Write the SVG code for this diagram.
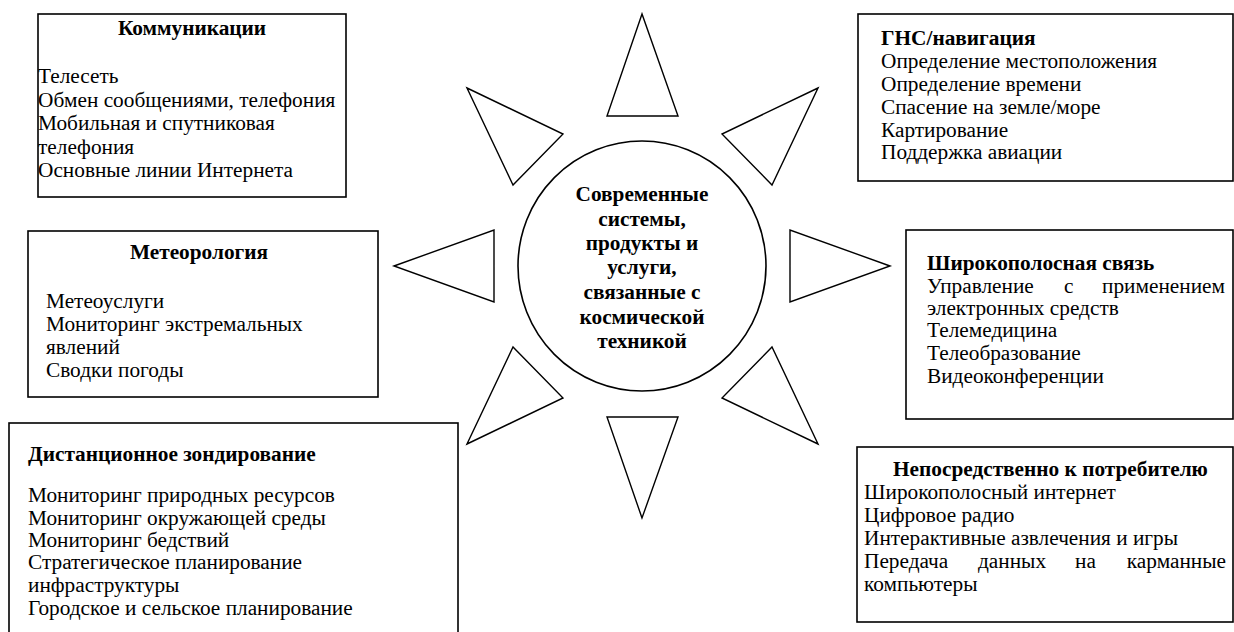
<svg xmlns="http://www.w3.org/2000/svg" width="1234" height="632" viewBox="0 0 1234 632">
<style>
.box{fill:#fff;stroke:#000;stroke-width:1.6}
.tri{fill:#fff;stroke:#000;stroke-width:1.4;stroke-linejoin:miter}
text{font-family:"Liberation Serif","Times New Roman",serif;font-size:21.3px;fill:#000}
.b{font-weight:bold}
.c{font-size:21.3px;font-weight:bold;text-anchor:middle}
.m{text-anchor:middle}
.e{text-anchor:end}
</style>
<rect width="1234" height="632" fill="#fff"/>
<g id="rays">
<polygon class="tri" points="642,14 607,116 678,116"/>
<polygon class="tri" points="467,88 563,134 513,185"/>
<polygon class="tri" points="818,88 722,134 772,185"/>
<polygon class="tri" points="394,266 494,230 494,302"/>
<polygon class="tri" points="890,266 790,230 790,302"/>
<polygon class="tri" points="467,444 563,398 513,347"/>
<polygon class="tri" points="818,444 722,398 772,347"/>
<polygon class="tri" points="642,518 607,417 678,417"/>
</g>
<g id="center">
<ellipse class="box" cx="642" cy="266" rx="124" ry="125"/>
<text class="c" x="642" y="201">Современные</text>
<text class="c" x="642" y="225.5">системы,</text>
<text class="c" x="642" y="250">продукты и</text>
<text class="c" x="642" y="274">услуги,</text>
<text class="c" x="642" y="299">связанные с</text>
<text class="c" x="642" y="323.5">космической</text>
<text class="c" x="642" y="348">техникой</text>
</g>
<g id="communications">
<rect class="box" x="38" y="14" width="308" height="183"/>
<text class="b m" x="192" y="35">Коммуникации</text>
<text x="38" y="83">Телесеть</text>
<text x="38" y="107">Обмен сообщениями, телефония</text>
<text x="38" y="130">Мобильная и спутниковая</text>
<text x="38" y="154">телефония</text>
<text x="38" y="177">Основные линии Интернета</text>
</g>
<g id="gnss">
<rect class="box" x="858" y="14" width="375" height="167"/>
<text class="b" x="881" y="45">ГНС/навигация</text>
<text x="881" y="68">Определение местоположения</text>
<text x="881" y="91">Определение времени</text>
<text x="881" y="114">Спасение на земле/море</text>
<text x="881" y="137">Картирование</text>
<text x="881" y="159">Поддержка авиации</text>
</g>
<g id="meteorology">
<rect class="box" x="28" y="231" width="350" height="166"/>
<text class="b m" x="199" y="259">Метеорология</text>
<text x="46" y="308">Метеоуслуги</text>
<text x="46" y="331">Мониторинг экстремальных</text>
<text x="46" y="354">явлений</text>
<text x="46" y="377">Сводки погоды</text>
</g>
<g id="broadband">
<rect class="box" x="906" y="230" width="327" height="189"/>
<text class="b" x="927" y="270">Широкополосная связь</text>
<text x="927" y="293">Управление</text>
<text x="1064" y="293">с</text>
<text class="e" x="1225" y="293">применением</text>
<text x="927" y="315">электронных средств</text>
<text x="927" y="337">Телемедицина</text>
<text x="927" y="360">Телеобразование</text>
<text x="927" y="383">Видеоконференции</text>
</g>
<g id="remote-sensing">
<rect class="box" x="9" y="423" width="449" height="230"/>
<text class="b" x="28" y="461">Дистанционное зондирование</text>
<text x="28" y="502">Мониторинг природных ресурсов</text>
<text x="28" y="525">Мониторинг окружающей среды</text>
<text x="28" y="547">Мониторинг бедствий</text>
<text x="28" y="569">Стратегическое планирование</text>
<text x="28" y="592">инфраструктуры</text>
<text x="28" y="615">Городское и сельское планирование</text>
</g>
<g id="direct-to-consumer">
<rect class="box" x="857" y="447" width="376" height="175"/>
<text class="b" x="893" y="476">Непосредственно к потребителю</text>
<text x="864" y="499">Широкополосный интернет</text>
<text x="864" y="522">Цифровое радио</text>
<text x="864" y="545">Интерактивные азвлечения и игры</text>
<text x="864" y="568">Передача</text>
<text x="978" y="568">данных</text>
<text x="1075" y="568">на</text>
<text class="e" x="1226" y="568">карманные</text>
<text x="864" y="591">компьютеры</text>
</g>
</svg>
